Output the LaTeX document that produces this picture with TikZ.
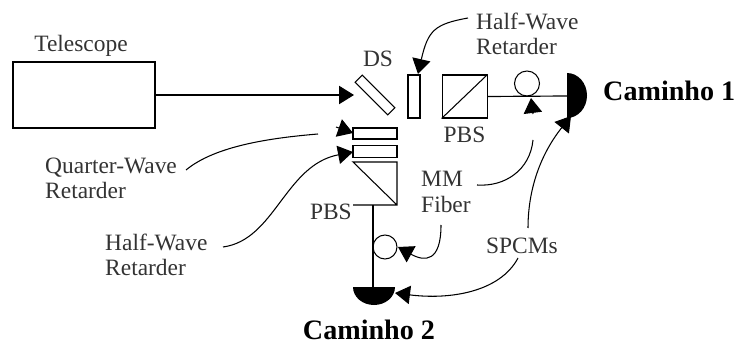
\documentclass[tikz,border=0pt]{standalone}
\usepackage{fontspec}
\setmainfont{Liberation Serif}
\usetikzlibrary{positioning,arrows.meta}

\begin{document}
\begin{tikzpicture}[
    x=0.03cm, y=-0.03cm,
    optic/.style={draw, line width=0.9pt, inner sep=0pt, fill=white},
    fiber/.style={line width=1pt},
    pointer/.style={line width=0.9pt, -{Triangle[length=0.45cm, width=0.55cm]}},
    lead/.style={line width=0.9pt},
    label/.style={font=\fontsize{20}{21.5}\selectfont, align=left, text=black!80, inner sep=0pt},
    path/.style={font=\fontsize{24}{26}\selectfont\bfseries, inner sep=0pt},
]
\useasboundingbox (0,0) rectangle (737,347);

% Telescope arm
\node[optic, minimum width=4.26cm, minimum height=1.98cm] (telescope) at (84,95) {};
\node[label] (telescopeLabel) at (81,46) {Telescope};
\node[optic, rotate=-45, minimum width=1.38cm, minimum height=0.3cm] (ds) at (375,95) {};
\node[label] (dsLabel) at (378,59) {DS};
\coordinate (dsIn) at (354,95);

% Caminho 1
\node[optic, minimum width=0.36cm, minimum height=1.29cm] (hwpA) at (414,96.5) {};
\node[optic, right=0.63cm of hwpA, minimum width=1.35cm, minimum height=1.29cm] (pbsA) {};
\draw[optic] (pbsA.south west) -- (pbsA.north east);
\node[label, below=0.25cm of pbsA] (pbsALabel) {PBS};
\coordinate (detA) at (567,96);
\fill (567,73) arc[start angle=-90, end angle=90, x radius=20, y radius=22.5] -- cycle;
\node[optic, circle, fill=none, minimum size=0.75cm] (coilA) at (527,83.5) {};
\node[path, anchor=west] (caminhoA) at (603,91) {Caminho 1};

% Retarders and second beam splitter
\node[optic, minimum width=1.32cm, minimum height=0.33cm] (qwp) at (375,133.5) {};
\node[optic, below=0.15cm of qwp, minimum width=1.32cm, minimum height=0.36cm] (hwpB) {};
\coordinate (pbsBa) at (353,162);
\coordinate (pbsBb) at (397,162);
\coordinate (pbsBc) at (397,205);
\coordinate (pbsBd) at (353,205);
\draw[optic] (pbsBd) -- (pbsBc) -- (pbsBb) -- (pbsBa) -- (pbsBc);
\node[label, anchor=east] (pbsBLabel) at (352,212) {PBS};

% Caminho 2
\coordinate (fiberTop) at (373,205);
\coordinate (detB) at (373,287);
\fill (353,287) arc[start angle=180, end angle=0, x radius=21, y radius=18] -- cycle;
\node[optic, circle, fill=none, minimum size=0.72cm] (coilB) at (385,247) {};
\node[path] (caminhoB) at (369,330) {Caminho 2};

% Labels
\node[label, anchor=west] (hwpALabel) at (476,34) {Half-Wave\\Retarder};
\node[label, anchor=west] (qwpLabel) at (45,178) {Quarter-Wave\\Retarder};
\node[label, anchor=west] (hwpBLabel) at (105,255) {Half-Wave\\Retarder};
\node[label, anchor=west] (fiberLabel) at (421,192) {MM\\Fiber};
\node[label] (spcmLabel) at (522,246) {SPCMs};

% Beam and fibers
\draw[pointer] (telescope.east) -- (dsIn);
\draw[fiber] (pbsA.east) -- (detA);
\draw[fiber] (fiberTop) -- (detB);

% Arrow anchors
\coordinate (hwpAIn) at (418,74);
\coordinate (hwpAOut) at (468,18);
\coordinate (qwpOut) at (186,170);
\coordinate (qwpEnd) at (318,134);
\coordinate (qwpHead) at (336,127);
\coordinate (qwpIn) at (353,133);
\coordinate (hwpBOut) at (223,247);
\coordinate (hwpBIn) at (353,152);
\coordinate (fiberOutA) at (477,185);
\coordinate (fiberEndA) at (533,140);
\coordinate (coilATail) at (533,114);
\coordinate (coilAIn) at (531,98);
\coordinate (fiberOutB) at (441,225);
\coordinate (coilBIn) at (398,247);
\coordinate (spcmOutA) at (528,228);
\coordinate (detAIn) at (571,116);
\coordinate (spcmOutB) at (518,258);
\coordinate (detBIn) at (395,293);

% Leads
\draw[pointer] (hwpAOut) .. controls (435,24) and (428,30) .. (hwpAIn);
\draw[lead] (qwpOut) .. controls (215,146) and (270,138) .. (qwpEnd);
\draw[pointer] (qwpHead) -- (qwpIn);
\draw[pointer] (hwpBOut) .. controls (275,240) and (285,165) .. (hwpBIn);
\draw[lead] (fiberOutA) .. controls (505,187) and (530,170) .. (fiberEndA);
\draw[pointer] (coilATail) -- (coilAIn);
\draw[pointer] (fiberOutB) .. controls (441,262) and (425,262) .. (coilBIn);
\draw[pointer] (spcmOutA) .. controls (528,190) and (540,155) .. (detAIn);
\draw[pointer] (spcmOutB) .. controls (500,292) and (450,300) .. (detBIn);

\end{tikzpicture}
\end{document}
